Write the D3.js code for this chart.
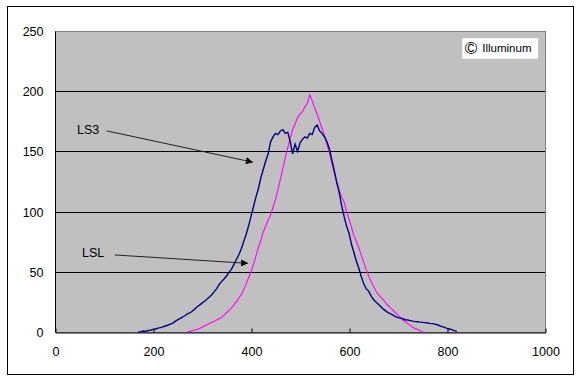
<!DOCTYPE html>
<html>
<head>
<meta charset="utf-8">
<script src="https://cdn.jsdelivr.net/npm/d3@7"></script>
<style>
  body { margin: 0; background: #fff; }
  svg text { font-family: 'Liberation Sans', Arial, sans-serif; }
</style>
</head>
<body>
<svg class="canvas" width="580" height="381"></svg>
<script>
'use strict';

// wavelength (x) and count (y)
const ls3X = [170,175,180,185,190,195,200,205,210,215,220,225,230,235,240,245,250,255,260,265,270,275,280,285,290,295,300,305,310,315,320,325,330,335,340,345,350,355,360,365,370,375,380,385,390,395,400,405,410,415,420,425,430,435,440,445,450,455,460,465,470,475,480,485,490,495,500,505,510,515,520,525,530,535,540,545,550,555,560,565,570,575,580,585,590,595,600,605,610,615,620,625,630,635,640,645,650,655,660,665,670,675,680,685,690,695,700,705,710,715,720,725,730,735,740,745,750,755,760,765,770,775,780,785,790,795,800,805,810,815,820];
const ls3Y = [0,0.3,0.8,0.5,1.2,1.5,2.2,2.5,3.2,3.6,4.2,5,5.6,6.5,7.2,8.8,10,11.2,12.3,13.5,15,15.8,17.2,19,21,22.3,24,25.5,27.2,29,31,33.5,36,39.5,42,44,46.5,49.5,52,56,60,64,69,75,81,88,96,104,112,119,128,135,142,148,158,162,165,164,167,168,165,166,158,148,156,150,157,160,162,161,165,164,170,172,167,165,162,158,152,143,134,124,116,105,96,88,82,73,66,59,53,46,40,36,34,30,27,25,23,21,19,17.5,16,15,14,12.8,12,11.5,11,10.2,10,9.5,9,8.6,8.5,8.2,8,7.8,7.5,7.2,7,6.5,6,5.2,4.5,3.8,3,2.5,2,1.2,0.5];

const lslX = [270,275,280,285,290,295,300,305,310,315,320,325,330,335,340,345,350,355,360,365,370,375,380,385,390,395,400,405,410,415,420,425,430,435,440,445,450,455,460,465,470,475,480,485,490,495,500,505,510,515,520,525,530,535,540,545,550,555,560,565,570,575,580,585,590,595,600,605,610,615,620,625,630,635,640,645,650,655,660,665,670,675,680,685,690,695,700,705,710,715,720,725,730,735,740,745,750];
const lslY = [0,0.5,1,1.5,2,3,4,5,6,7,8,9,10,11,12,14,16,18,20,22.5,25,28,31,35,40,45,50,56,63,70,76,83,88,93,97,104,110,118,127,136,145,153,161,168,173,178,181,183,187,190,197,192,186,181,175,169,163,156,149,140,132,125,118,112,108,100,94,87,80,75,70,64,58,52,47,42,38,34,31,29,27,24,22,20,18,16,14,12,10,8.5,7,5.5,4,3,2,1,0.5];

const xTicks = [0, 200, 400, 600, 800, 1000];
const yTicks = [0, 50, 100, 150, 200, 250];

const seriesNames = ['LS3', 'LSL'];
const seriesColors = ['#000080', '#ff00ff'];

// label position, arrow start, arrow tip (data units)
const labelAt = [[45, 168], [55, 66]];
const arrowFrom = [[106, 167], [122, 64]];
const arrowTo = [[404, 141], [394, 57]];

const svg = d3.select('.canvas'),
  plotLeft = 55,
  plotTop = 31,
  plotWidth = 490,
  plotHeight = 301;

// outer chart border
svg.append('rect')
  .attr('x', 7.5).attr('y', 6.5)
  .attr('width', 566).attr('height', 368)
  .attr('fill', '#fff').attr('stroke', '#000');

const x = d3.scaleLinear().domain([0, 1000]).range([plotLeft, plotLeft + plotWidth]),
  y = d3.scaleLinear().domain([0, 250]).range([plotTop + plotHeight, plotTop]);

// plot area
svg.append('rect')
  .attr('x', plotLeft + 0.5).attr('y', plotTop + 0.5)
  .attr('width', plotWidth).attr('height', plotHeight)
  .attr('fill', '#c0c0c0').attr('stroke', '#808080');

// gridlines
svg.append('g')
  .selectAll('line')
  .data(yTicks.filter(t => t > 0 && t < 250))
  .enter().append('line')
  .attr('x1', plotLeft).attr('x2', plotLeft + plotWidth)
  .attr('y1', d => Math.round(y(d)) + 0.5).attr('y2', d => Math.round(y(d)) + 0.5)
  .attr('stroke', '#000');

// axes
const xAxis = svg.append('g')
  .attr('transform', `translate(0.5,${plotTop + plotHeight + 0.5})`)
  .call(d3.axisBottom(x).tickValues(xTicks).tickFormat(d3.format('d'))
    .tickSizeInner(-4).tickSizeOuter(0).tickPadding(15));
const yAxis = svg.append('g')
  .attr('transform', `translate(${plotLeft + 0.5},0.5)`)
  .call(d3.axisLeft(y).tickValues(yTicks).tickFormat(d3.format('d'))
    .tickSize(0).tickPadding(12));

[xAxis, yAxis].forEach(ax => {
  ax.select('.domain').attr('stroke', '#000');
  ax.selectAll('.tick line').attr('stroke', '#000');
  ax.selectAll('.tick text')
    .attr('fill', '#000')
    .style('font-size', '12.5px');
});
yAxis.select('.domain').attr('d', `M0,${plotTop}V${plotTop + plotHeight}`);

// series, LSL first so LS3 sits on top
const line = d3.line().x(d => x(d[0])).y(d => y(d[1]));
const seriesData = [d3.zip(ls3X, ls3Y), d3.zip(lslX, lslY)];
[1, 0].forEach(i => {
  svg.append('path')
    .datum(seriesData[i])
    .attr('d', line)
    .attr('fill', 'none')
    .attr('stroke', seriesColors[i])
    .attr('stroke-width', i === 0 ? 1.4 : 1.1);
});

// arrow annotations
svg.append('defs').append('marker')
  .attr('id', 'head')
  .attr('viewBox', '0 0 10 10')
  .attr('refX', 10).attr('refY', 5)
  .attr('markerWidth', 10).attr('markerHeight', 7)
  .attr('markerUnits', 'userSpaceOnUse')
  .attr('orient', 'auto')
  .append('path')
  .attr('d', 'M0,0L10,5L0,10Z')
  .attr('fill', '#000');

seriesNames.forEach((name, i) => {
  svg.append('text')
    .attr('x', x(labelAt[i][0]))
    .attr('y', y(labelAt[i][1]))
    .attr('dy', '0.35em')
    .style('font-size', '12.5px')
    .text(name);
  svg.append('line')
    .attr('x1', x(arrowFrom[i][0])).attr('y1', y(arrowFrom[i][1]))
    .attr('x2', x(arrowTo[i][0])).attr('y2', y(arrowTo[i][1]))
    .attr('stroke', '#222')
    .attr('stroke-width', 1)
    .attr('marker-end', 'url(#head)');
});

// copyright tag
const tag = svg.append('g');
tag.append('rect')
  .attr('x', x(831)).attr('y', y(244))
  .attr('width', x(986) - x(831)).attr('height', y(227) - y(244))
  .attr('fill', '#fff');
tag.append('text')
  .attr('x', x(836)).attr('y', y(235.5))
  .attr('dy', '0.35em')
  .style('font-size', '17px')
  .text('©');
tag.append('text')
  .attr('x', x(872)).attr('y', y(235.5))
  .attr('dy', '0.35em')
  .style('font-size', '11.5px')
  .text('Illuminum');
</script>
</body>
</html>
